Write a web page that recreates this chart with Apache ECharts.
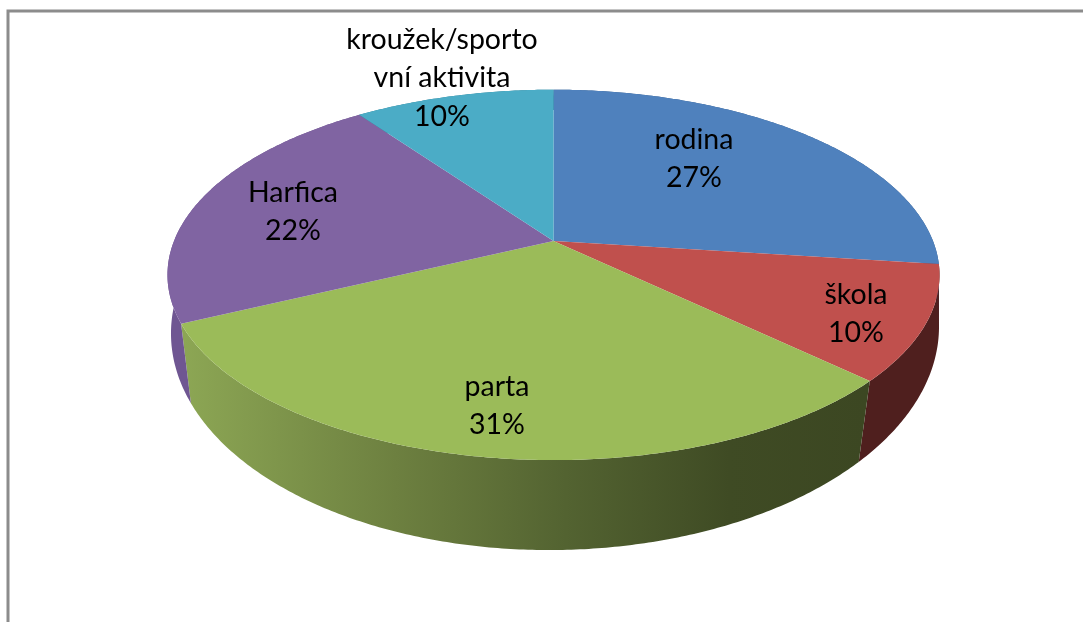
<!DOCTYPE html>
<html><head><meta charset="utf-8">
<style>html,body{margin:0;padding:0;background:#fff}#c{width:1083px;height:622px}</style>
<script src="https://cdn.jsdelivr.net/npm/echarts@6/dist/echarts.min.js"></script>
</head><body><div id="c"></div>
<script>
const categories = ['rodina','škola','parta','Harfica','kroužek/sporto\nvní aktivita'];
const shares = [27,10,31,22,10];
const topColors = ['#4f81bd','#c0504d','#9bbb59','#8064a2','#4bacc6'];
const wallColors = ['#3a5f8c','#4f1f1e',null,'#6f5692','#2f7d92'];
const labelAnchors = [[694,159],[856,314],[497,406],[293,212],[442,78]];

const topFace = {cx:553.5, cy:241, rx:379.5, ry:179, k:0.183, tilt:0};
const baseFace = {cx:555, cy:302.5, rx:381, ry:216.6, k:0.125, tilt:-0.009};
const total = shares.reduce((a,b)=>a+b,0);
const chart = echarts.init(document.getElementById('c'),null,{renderer:'canvas'});

function project(f,t){
  const u=Math.sin(t), v=Math.cos(t), d=1+f.k*v;
  const dx=u*f.rx/d;
  return [f.cx+dx, f.cy-v*f.ry/d+f.tilt*dx];
}
function arc(f,a,b){
  const n=Math.max(2,Math.ceil((b-a)/0.01)), pts=[];
  for(let i=0;i<=n;i++) pts.push(project(f,a+(b-a)*i/n));
  return pts;
}
let acc=0;
const sliceData = shares.map((s,i)=>{const r=[acc,s,i]; acc+=s; return r;});
const angle = p => p/total*Math.PI*2;
const greenWall = new echarts.graphic.LinearGradient(185,0,865,0,[
  {offset:0,color:'#8ca654'},{offset:0.31,color:'#6d8040'},
  {offset:0.56,color:'#536331'},{offset:0.8,color:'#3f4b24'},{offset:1,color:'#3c4722'}],true);

chart.setOption({
  animation:false,
  graphic:[{type:'polyline',silent:true,z:0,
    shape:{points:[[8,622],[8,11],[1083,11]]},
    style:{stroke:'#8c8c8c',lineWidth:3,fill:null}}],
  series:[
   {type:'custom',coordinateSystem:'none',silent:true,z:1,data:sliceData,
    renderItem(p,api){
      const a=angle(api.value(0)), b=angle(api.value(0)+api.value(1)), i=api.value(2);
      const points=arc(topFace,a,b).concat(arc(baseFace,a,b).reverse());
      return {type:'polygon',shape:{points},
        style:{fill:i===2?greenWall:wallColors[i]}};
    }},
   {type:'custom',coordinateSystem:'none',silent:true,z:2,data:sliceData,
    renderItem(p,api){
      const a=angle(api.value(0)), b=angle(api.value(0)+api.value(1)), i=api.value(2);
      const points=[[topFace.cx,topFace.cy]].concat(arc(topFace,a,b));
      return {type:'polygon',shape:{points},style:{fill:topColors[i]}};
    }},
   {type:'custom',coordinateSystem:'none',silent:true,z:3,data:sliceData,
    renderItem(p,api){
      const i=api.value(2);
      return {type:'text',x:labelAnchors[i][0],y:labelAnchors[i][1],
        style:{text:categories[i]+'\n'+api.value(1)+'%',
          font:'28.5px Lato',lineHeight:38.5,fill:'#000',align:'center',verticalAlign:'middle'}};
    }}
  ]
});
</script></body></html>
